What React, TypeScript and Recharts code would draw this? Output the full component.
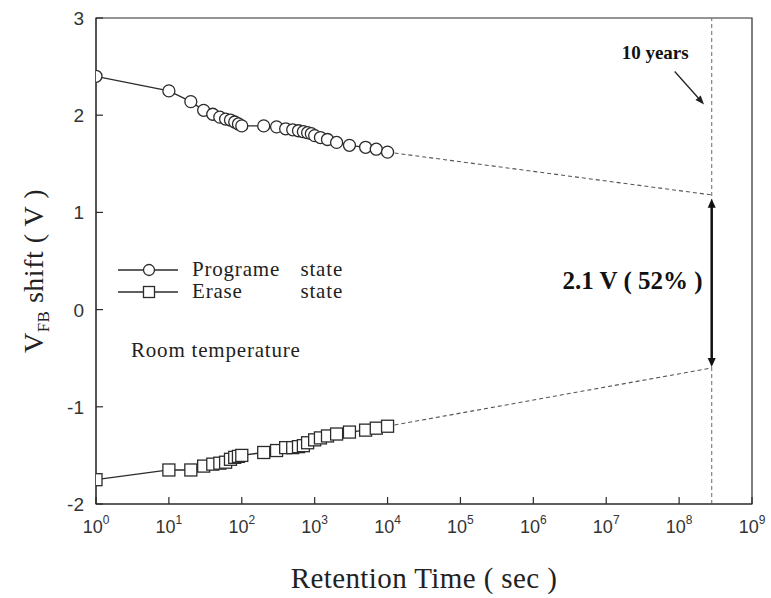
import {
  ComposedChart,
  Line,
  XAxis,
  YAxis,
  ReferenceLine,
  ReferenceDot,
  ReferenceArea,
  Legend,
} from "recharts";

// retention measurement, room temperature
const programTime = [1, 10, 20, 30, 40, 50, 60, 70, 80, 90, 100, 200, 300, 400, 500, 600, 700, 800, 900, 1000, 1200, 1500, 2000, 3000, 5000, 7000, 10000];
const programShift = [2.4, 2.25, 2.14, 2.05, 2.01, 1.98, 1.96, 1.95, 1.93, 1.91, 1.89, 1.89, 1.88, 1.86, 1.85, 1.84, 1.83, 1.82, 1.81, 1.79, 1.77, 1.75, 1.72, 1.69, 1.67, 1.65, 1.62];

const eraseTime = [1, 10, 20, 30, 40, 50, 60, 70, 80, 90, 100, 200, 300, 400, 500, 600, 700, 800, 1000, 1200, 1500, 2000, 3000, 5000, 7000, 10000];
const eraseShift = [-1.75, -1.65, -1.65, -1.61, -1.59, -1.58, -1.57, -1.54, -1.52, -1.51, -1.5, -1.47, -1.45, -1.42, -1.42, -1.41, -1.4, -1.37, -1.34, -1.32, -1.3, -1.28, -1.26, -1.24, -1.22, -1.2];

const seriesNames = ["Programe state", "Erase state"];

const xTicks = [1, 1e1, 1e2, 1e3, 1e4, 1e5, 1e6, 1e7, 1e8, 1e9];
const yTicks = [-2, -1, 0, 1, 2, 3];

// extrapolation to 10 years
const tenYears = 2.8e8;
const programAt10y = 1.18;
const eraseAt10y = -0.6;
const windowTop = 1.14;
const windowBottom = -0.59;

const programData = programTime.map((t, i) => ({ t, v: programShift[i] }));
const eraseData = eraseTime.map((t, i) => ({ t, v: eraseShift[i] }));

const INK = "#2b2b2b";
const SERIF = "'Liberation Serif', 'Times New Roman', serif";
const SANS = "'Liberation Sans', Arial, sans-serif";

function CircleDot(p: any) {
  if (p.cx == null || p.cy == null) return <g key={p.index} />;
  return <circle key={p.index} cx={p.cx} cy={p.cy} r={6} fill="#fff" stroke={INK} strokeWidth={1.3} />;
}

function SquareDot(p: any) {
  if (p.cx == null || p.cy == null) return <g key={p.index} />;
  return <rect key={p.index} x={p.cx - 6} y={p.cy - 6} width={12} height={12} fill="#fff" stroke={INK} strokeWidth={1.3} />;
}

function XTick({ x, y, payload }: any) {
  const exp = Math.round(Math.log10(payload.value));
  return (
    <g>
      <line x1={x} y1={y} x2={x} y2={y - 7} stroke={INK} strokeWidth={1.2} />
      <text x={x} y={y + 29} textAnchor="middle" fontFamily={SANS} fontSize={18} fill="#333">
        10
        <tspan dy={-9} fontSize={12}>{exp}</tspan>
      </text>
    </g>
  );
}

function YTick({ x, y, payload }: any) {
  return (
    <g>
      <line x1={x} y1={y} x2={x + 7} y2={y} stroke={INK} strokeWidth={1.2} />
      <text x={x - 12} y={y + 7} textAnchor="end" fontFamily={SANS} fontSize={19} fill="#333">
        {payload.value}
      </text>
    </g>
  );
}

function DoubleArrow(p: any) {
  const { x1, y1, x2, y2 } = p;
  const h = 9;
  const w = 4;
  return (
    <g>
      <line x1={x1} y1={y1 + 4} x2={x2} y2={y2 - 4} stroke="#111" strokeWidth={2.5} />
      <polygon points={`${x1},${y1} ${x1 - w},${y1 + h} ${x1 + w},${y1 + h}`} fill="#111" />
      <polygon points={`${x2},${y2} ${x2 - w},${y2 - h} ${x2 + w},${y2 - h}`} fill="#111" />
    </g>
  );
}

function PointerArrow(p: any) {
  const { x1, y1, x2, y2 } = p;
  const ang = Math.atan2(y2 - y1, x2 - x1);
  const h = 9;
  const w = 3.5;
  const bx = x2 - h * Math.cos(ang);
  const by = y2 - h * Math.sin(ang);
  const nx = -Math.sin(ang) * w;
  const ny = Math.cos(ang) * w;
  return (
    <g>
      <line x1={x1} y1={y1} x2={bx} y2={by} stroke="#222" strokeWidth={1.3} />
      <polygon points={`${x2},${y2} ${bx + nx},${by + ny} ${bx - nx},${by - ny}`} fill="#222" />
    </g>
  );
}

function LegendBox({ payload }: any) {
  const items = [...(payload || [])].sort(
    (a: any, b: any) => seriesNames.indexOf(a.value) - seriesNames.indexOf(b.value)
  );
  const rows = [15, 37];
  return (
    <svg width={260} height={115} style={{ display: "block" }}>
      {items.map((it: any, i: number) => {
        const y = rows[i] ?? rows[0];
        const words = String(it.value).split(" ");
        const isProgram = it.value === seriesNames[0];
        return (
          <g key={it.value}>
            <line x1={8} y1={y} x2={68} y2={y} stroke={INK} strokeWidth={1.3} />
            {isProgram ? (
              <circle cx={39} cy={y} r={5.5} fill="#fff" stroke={INK} strokeWidth={1.3} />
            ) : (
              <rect x={33.5} y={y - 5.5} width={11} height={11} fill="#fff" stroke={INK} strokeWidth={1.3} />
            )}
            <text x={82} y={y + 6} fontFamily={SERIF} fontSize={21} letterSpacing={0.8} fill="#222">
              {words[0]}
            </text>
            <text x={233} y={y + 6} textAnchor="end" fontFamily={SERIF} fontSize={21} letterSpacing={0.8} fill="#222">
              {words.slice(1).join(" ")}
            </text>
          </g>
        );
      })}
      <text x={21} y={102} fontFamily={SERIF} fontSize={21} letterSpacing={0.8} fill="#222">
        Room temperature
      </text>
    </svg>
  );
}

export default function App() {
  return (
    <div style={{ width: 771, height: 598, background: "#fff" }}>
      <style>{"body{margin:0}"}</style>
      <ComposedChart width={771} height={598} margin={{ top: 18, right: 19, bottom: 0, left: 0 }}>
        <XAxis
          dataKey="t"
          type="number"
          scale="log"
          domain={[1, 1e9]}
          ticks={xTicks}
          interval={0}
          allowDataOverflow
          height={94}
          stroke={INK}
          tickSize={0}
          tickMargin={0}
          tick={<XTick />}
          label={{
            content: ({ viewBox }: any) => (
              <text
                x={viewBox.x + viewBox.width / 2}
                y={viewBox.y + 84}
                textAnchor="middle"
                fontFamily={SERIF}
                fontSize={29}
                letterSpacing={0.4}
                fill="#222"
              >
                Retention Time ( sec )
              </text>
            ),
          }}
        />
        <YAxis
          type="number"
          domain={[-2, 3]}
          ticks={yTicks}
          interval={0}
          width={96}
          stroke={INK}
          tickSize={0}
          tickMargin={0}
          tick={<YTick />}
          label={{
            content: ({ viewBox }: any) => {
              const cx = 43;
              const cy = viewBox.y + viewBox.height / 2 + 10;
              return (
                <text
                  transform={`translate(${cx},${cy}) rotate(-90)`}
                  textAnchor="middle"
                  fontFamily={SERIF}
                  fontSize={28}
                  letterSpacing={0.5}
                  fill="#222"
                >
                  V
                  <tspan fontSize={17} dy={6}>FB</tspan>
                  <tspan dy={-6}>{"  shift ( V )"}</tspan>
                </text>
              );
            },
          }}
        />
        <ReferenceArea x1={1} x2={1e9} y1={-2} y2={3} fill="none" stroke={INK} strokeWidth={1.2} ifOverflow="visible" />
        <ReferenceLine x={tenYears} stroke="#777" strokeDasharray="4 3" strokeWidth={1.1} />
        <ReferenceLine
          segment={[{ x: programTime[programTime.length - 1], y: programShift[programShift.length - 1] }, { x: tenYears, y: programAt10y }]}
          stroke="#555"
          strokeDasharray="4 3"
          strokeWidth={1.1}
        />
        <ReferenceLine
          segment={[{ x: eraseTime[eraseTime.length - 1], y: eraseShift[eraseShift.length - 1] }, { x: tenYears, y: eraseAt10y }]}
          stroke="#555"
          strokeDasharray="4 3"
          strokeWidth={1.1}
        />
        <ReferenceLine segment={[{ x: tenYears, y: windowTop }, { x: tenYears, y: windowBottom }]} shape={<DoubleArrow />} />
        <ReferenceLine segment={[{ x: 8.7e7, y: 2.45 }, { x: 2.2e8, y: 2.11 }]} shape={<PointerArrow />} />
        <ReferenceDot
          x={4.7e7}
          y={2.65}
          r={0}
          shape={(p: any) => (
            <text x={p.cx} y={p.cy + 7} textAnchor="middle" fontFamily={SERIF} fontWeight="bold" fontSize={19} fill="#111">
              10 years
            </text>
          )}
        />
        <ReferenceDot
          x={2.3e7}
          y={0.3}
          r={0}
          shape={(p: any) => (
            <text x={p.cx} y={p.cy + 9} textAnchor="middle" fontFamily={SERIF} fontWeight="bold" fontSize={25} fill="#111">
              2.1 V ( 52% )
            </text>
          )}
        />
        <Line
          name={seriesNames[0]}
          data={programData}
          dataKey="v"
          type="linear"
          stroke={INK}
          strokeWidth={1.3}
          dot={CircleDot}
          activeDot={false}
          isAnimationActive={false}
        />
        <Line
          name={seriesNames[1]}
          data={eraseData}
          dataKey="v"
          type="linear"
          stroke={INK}
          strokeWidth={1.3}
          dot={SquareDot}
          activeDot={false}
          isAnimationActive={false}
        />
        <Legend
          layout="vertical"
          align="center"
          verticalAlign="middle"
          content={<LegendBox />}
          wrapperStyle={{ left: 110, top: 255, width: 260, height: 115 }}
        />
      </ComposedChart>
    </div>
  );
}
